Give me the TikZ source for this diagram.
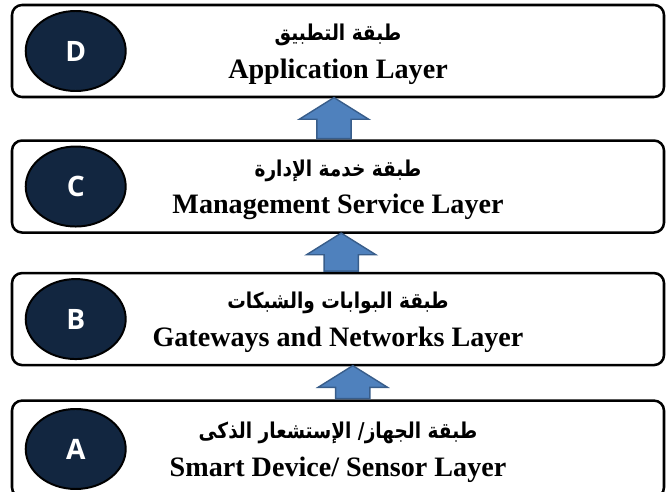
\documentclass[tikz,border=0pt]{standalone}
\usepackage{fontspec}
\setmainfont{Liberation Serif}
\newfontfamily\arabicfont[Script=Arabic,FakeStretch=0.85]{DejaVu Sans}
\newfontfamily\letterfont{Open Sans}
\TeXXeTstate=1
\usepackage{tikz}
\usetikzlibrary{shapes.geometric,shapes.arrows,positioning}
\definecolor{navy}{RGB}{18,38,64}
\definecolor{arfill}{RGB}{79,129,189}
\definecolor{ardraw}{RGB}{56,93,138}

\begin{document}
\begin{tikzpicture}[node distance=1cm]
  \tikzstyle{layer}=[draw,line width=1.8pt,rounded corners=0.25cm,minimum width=16.3cm,minimum height=2.3cm,inner sep=0pt]
  \tikzstyle{badge}=[ellipse,draw,line width=1.4pt,fill=navy,text=white,minimum width=2.5cm,minimum height=2cm,inner sep=0pt,font=\letterfont\bfseries\fontsize{20}{24}\selectfont]
  \tikzstyle{artxt}=[inner sep=0pt,font=\arabicfont\bfseries\fontsize{15.5}{18}\selectfont]
  \tikzstyle{entxt}=[inner sep=0pt,font=\bfseries\fontsize{20}{24}\selectfont]
  \tikzstyle{uparrow}=[single arrow,rotate=90,anchor=tail,fill=arfill,draw=ardraw,line width=1pt,inner xsep=0pt,inner ysep=0.41cm,single arrow head extend=0.44cm,single arrow tip angle=116]

  \useasboundingbox (0,0) rectangle (16.65,-12.3);

  % the four layers
  \node[layer] (lay_D) at (8.45,-1.275) {};
  \node[layer] (lay_C) [below=1.025cm of lay_D] {};
  \node[layer] (lay_B) [below=0.95cm of lay_C] {};
  \node[layer,minimum height=2.42cm] (lay_A) [below=0.825cm of lay_B] {};

  \node[badge] (b_D) [right=0.35cm of lay_D.west] {D};
  \node[badge] (b_C) [right=0.35cm of lay_C.west] {C};
  \node[badge] (b_B) [right=0.35cm of lay_B.west] {B};
  \node[badge] (b_A) [right=0.35cm of lay_A.west] {A};

  \node[artxt] (ar_D) at ([yshift=0.4cm]lay_D.center) {\beginR طبقة التطبيق\endR};
  \node[entxt] (en_D) at ([yshift=-0.52cm]lay_D.center) {Application Layer};
  \node[artxt] (ar_C) at ([yshift=0.4cm]lay_C.center) {\beginR طبقة خدمة الإدارة\endR};
  \node[entxt] (en_C) at ([yshift=-0.52cm]lay_C.center) {Management Service Layer};
  \node[artxt] (ar_B) at ([yshift=0.4cm]lay_B.center) {\beginR طبقة البوابات والشبكات\endR};
  \node[entxt] (en_B) at ([yshift=-0.52cm]lay_B.center) {Gateways and Networks Layer};
  \node[artxt] (ar_A) at ([yshift=0.4cm]lay_A.center) {\beginR طبقة الجهاز/ الإستشعار الذكى\endR};
  \node[entxt] (en_A) at ([yshift=-0.52cm]lay_A.center) {Smart Device/ Sensor Layer};

  % arrows between layers
  \node[uparrow,minimum height=1.025cm] (up_CD) at ([xshift=-0.1cm]lay_C.north) {};
  \node[uparrow,minimum height=0.95cm] (up_BC) at ([xshift=0.08cm]lay_B.north) {};
  \node[uparrow,minimum height=0.825cm] (up_AB) at ([xshift=0.37cm]lay_A.north) {};
\end{tikzpicture}
\end{document}
